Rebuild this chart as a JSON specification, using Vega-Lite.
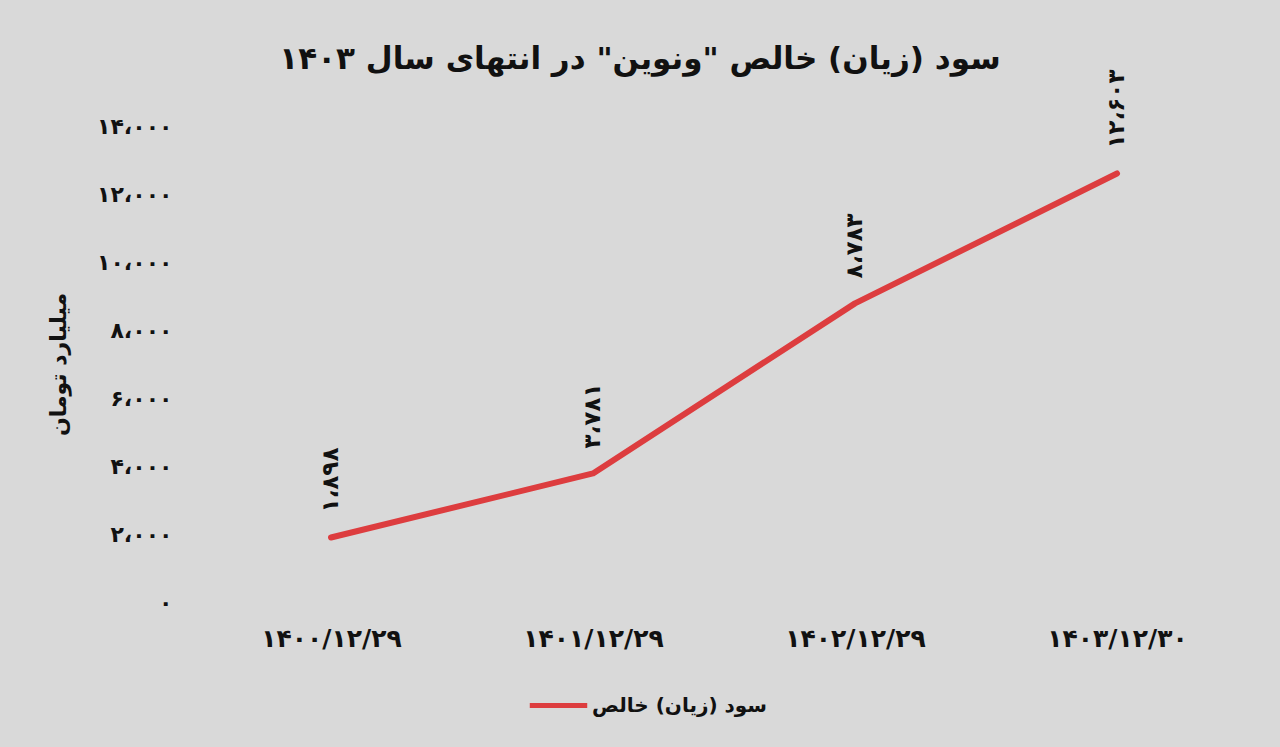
{
  "$schema": "https://vega.github.io/schema/vega-lite/v6.json",
  "autosize": {"type": "none"},
  "width": 1048,
  "height": 476,
  "padding": {"left": 200, "top": 126, "right": 32, "bottom": 145},
  "background": "#d9d9d9",
  "title": {
    "text": "سود (زیان) خالص \"ونوین\" در انتهای سال ۱۴۰۳",
    "font": "DejaVu Sans",
    "fontSize": 31,
    "fontWeight": "bold",
    "color": "#111111",
    "anchor": "middle",
    "frame": "group",
    "dx": -84,
    "offset": -6
  },
  "config": {
    "view": {"stroke": null},
    "font": "DejaVu Sans"
  },
  "data": {
    "values": [
      {"date": "۱۴۰۰/۱۲/۲۹", "value": 1898, "label": "۱،۸۹۸", "series": "سود (زیان) خالص"},
      {"date": "۱۴۰۱/۱۲/۲۹", "value": 3781, "label": "۳،۷۸۱", "series": "سود (زیان) خالص"},
      {"date": "۱۴۰۲/۱۲/۲۹", "value": 8783, "label": "۸،۷۸۳", "series": "سود (زیان) خالص"},
      {"date": "۱۴۰۳/۱۲/۳۰", "value": 12603, "label": "۱۲،۶۰۳", "series": "سود (زیان) خالص"}
    ]
  },
  "encoding": {
    "x": {
      "field": "date",
      "type": "ordinal",
      "sort": null,
      "scale": {"type": "point", "padding": 0.5},
      "axis": {
        "title": null,
        "labelAngle": 0,
        "domain": false,
        "ticks": false,
        "grid": false,
        "labelFont": "DejaVu Sans",
        "labelFontSize": 25,
        "labelFontWeight": "bold",
        "labelColor": "#111111",
        "labelPadding": 24
      }
    },
    "y": {
      "field": "value",
      "type": "quantitative",
      "scale": {"domain": [0, 14000], "nice": false},
      "axis": {
        "title": "میلیارد تومان",
        "titleFont": "DejaVu Sans",
        "titleFontSize": 22,
        "titleFontWeight": "bold",
        "titleColor": "#111111",
        "titlePadding": 26,
        "values": [0, 2000, 4000, 6000, 8000, 10000, 12000, 14000],
        "labelExpr": "replace(replace(replace(replace(replace(replace(replace(replace(replace(replace(replace(format(datum.value, ','), regexp(',', 'g'), '،'), regexp('0', 'g'), '۰'), regexp('1', 'g'), '۱'), regexp('2', 'g'), '۲'), regexp('3', 'g'), '۳'), regexp('4', 'g'), '۴'), regexp('5', 'g'), '۵'), regexp('6', 'g'), '۶'), regexp('7', 'g'), '۷'), regexp('8', 'g'), '۸'), regexp('9', 'g'), '۹')",
        "domain": false,
        "ticks": false,
        "grid": false,
        "labelFont": "DejaVu Sans",
        "labelFontSize": 22,
        "labelFontWeight": "bold",
        "labelColor": "#111111",
        "labelPadding": 28
      }
    }
  },
  "layer": [
    {
      "mark": {"type": "line", "strokeWidth": 6, "strokeCap": "round", "strokeJoin": "round"},
      "encoding": {
        "color": {
          "field": "series",
          "type": "nominal",
          "scale": {"range": ["#dd3d3f"]},
          "legend": {
            "title": null,
            "orient": "none",
            "legendX": 327,
            "legendY": 548,
            "direction": "horizontal",
            "symbolType": "stroke",
            "symbolSize": 3300,
            "symbolStrokeWidth": 5,
            "labelFont": "DejaVu Sans",
            "labelFontSize": 20,
            "labelFontWeight": "bold",
            "labelColor": "#111111",
            "labelOffset": 2,
            "labelLimit": 0
          }
        }
      }
    },
    {
      "mark": {
        "type": "text",
        "angle": 270,
        "align": "left",
        "baseline": "middle",
        "dx": 25,
        "font": "DejaVu Sans",
        "fontSize": 23,
        "fontWeight": "bold",
        "color": "#111111"
      },
      "encoding": {
        "text": {"field": "label"}
      }
    }
  ]
}
